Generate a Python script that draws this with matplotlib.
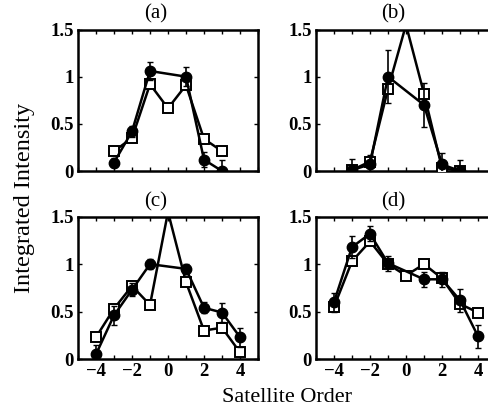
import numpy as np
import matplotlib
matplotlib.use('Agg')
import matplotlib.pyplot as plt
from matplotlib.ticker import MultipleLocator, FuncFormatter

plt.rcParams['font.family'] = ['Liberation Serif', 'DejaVu Serif']

# satellite orders
order_7 = [-3, -2, -1, 0, 1, 2, 3]
order_9 = [-4, -3, -2, -1, 0, 1, 2, 3, 4]

# (a)
a_circ_x = [-3, -2, -1, 1, 2, 3]
a_circ = [0.09, 0.42, 1.06, 1.00, 0.12, 0.0]
a_circ_err = [0.05, 0.06, 0.10, 0.10, 0.08, 0.12]
a_sq = [0.21, 0.35, 0.92, 0.665, 0.91, 0.34, 0.21]

# (b)
b_circ_x = [-3, -2, -1, 1, 2, 3]
b_circ = [0.01, 0.07, 1.00, 0.70, 0.07, 0.0]
b_circ_err = [0.12, 0.10, 0.28, 0.23, 0.12, 0.12]
b_sq = [0.01, 0.10, 0.87, 1.55, 0.82, 0.03, 0.0]

# (c)
c_circ_x = [-4, -3, -2, -1, 1, 2, 3, 4]
c_circ = [0.05, 0.46, 0.73, 1.00, 0.95, 0.54, 0.49, 0.23]
c_circ_err = [0.10, 0.10, 0.07, 0.05, 0.05, 0.06, 0.10, 0.10]
c_sq = [0.23, 0.53, 0.77, 0.57, 1.55, 0.81, 0.30, 0.33, 0.07]

# (d)
d_circ_x = [-4, -3, -2, -1, 1, 2, 3, 4]
d_circ = [0.60, 1.18, 1.32, 1.01, 0.84, 0.84, 0.62, 0.24]
d_circ_err = [0.10, 0.12, 0.08, 0.08, 0.08, 0.08, 0.12, 0.12]
d_sq = [0.55, 1.03, 1.24, 1.00, 0.88, 1.00, 0.85, 0.58, 0.49]

panels = [
    ('(a)', a_circ_x, a_circ, a_circ_err, order_7, a_sq),
    ('(b)', b_circ_x, b_circ, b_circ_err, order_7, b_sq),
    ('(c)', c_circ_x, c_circ, c_circ_err, order_9, c_sq),
    ('(d)', d_circ_x, d_circ, d_circ_err, order_9, d_sq),
]

W, H = 489, 409
fig = plt.figure(figsize=(W / 100, H / 100), dpi=100)

# axes boxes in pixels: left, top, right, bottom
boxes = [(78, 29.5, 258, 171), (316, 29.5, 496, 171),
         (78, 216.7, 258, 359), (316, 216.7, 496, 359)]

fmt = FuncFormatter(lambda v, p: '%g' % v)

for (title, cx, cy, ce, sx, sy), (l, t, r, b) in zip(panels, boxes):
    ax = fig.add_axes([l / W, 1 - b / H, (r - l) / W, (b - t) / H])
    ax.plot(sx, sy, '-', color='k', lw=1.8, marker='s', ms=7,
            mfc='white', mec='k', mew=1.4, zorder=3)
    ax.errorbar(cx, cy, yerr=ce, fmt='-o', color='k', lw=1.8, ms=7.5,
                mfc='k', mec='k', elinewidth=1.2, capsize=2, zorder=4)
    ax.set_xlim(-5, 5)
    ax.set_ylim(0, 1.5)
    ax.xaxis.set_major_locator(MultipleLocator(2))
    ax.xaxis.set_minor_locator(MultipleLocator(1))
    ax.yaxis.set_major_locator(MultipleLocator(0.5))
    ax.yaxis.set_major_formatter(fmt)
    ax.tick_params(which='both', direction='in', top=True, right=True,
                   labelsize=13.5, width=1.0, length=3, pad=3)
    for lab in ax.get_xticklabels() + ax.get_yticklabels():
        lab.set_fontweight('bold')
    if b < 200:
        ax.set_xticklabels([])
    for s in ax.spines.values():
        s.set_linewidth(1.8)
    ax.text(-0.7, 1.56, title, ha='center', va='bottom', fontsize=15)

fig.text(25 / W, 1 - 198 / H, 'Integrated Intensity', rotation=90,
         ha='center', va='center', fontsize=17.5)
fig.text(287 / W, 1 - 397 / H, 'Satellite Order', ha='center',
         va='center', fontsize=16)

fig.savefig('out.png', dpi=100)
